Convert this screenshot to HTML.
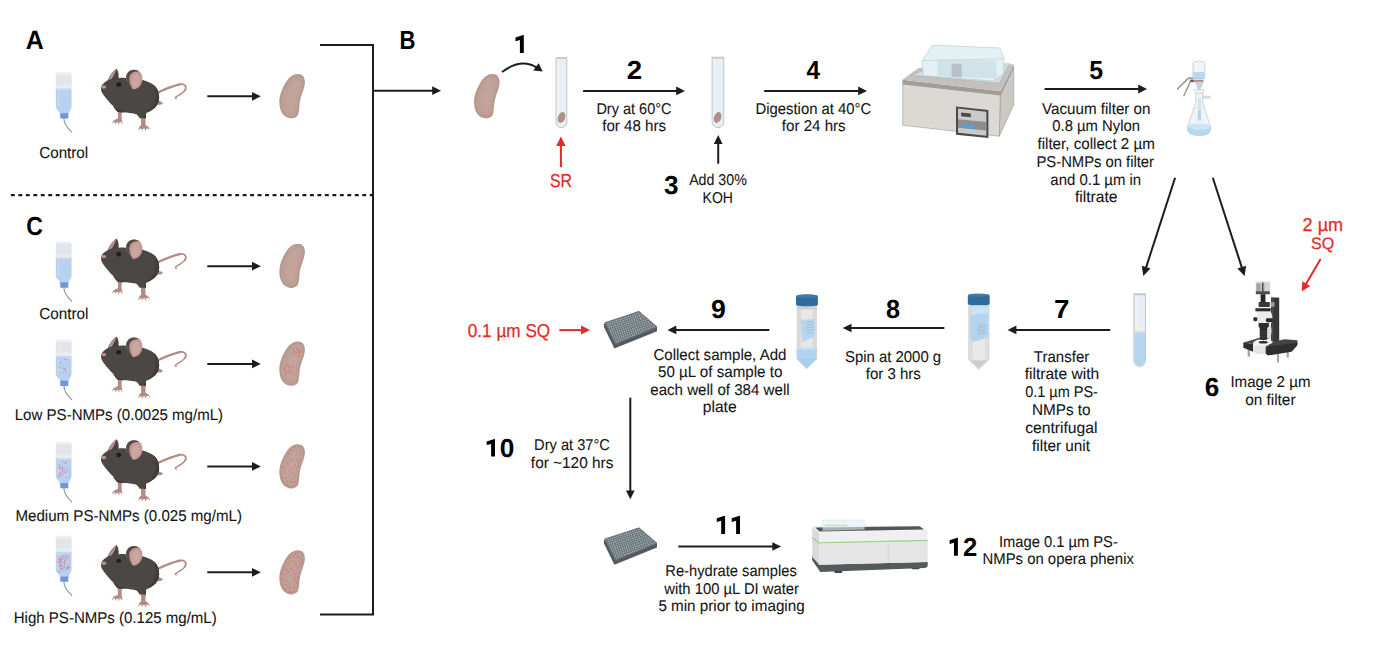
<!DOCTYPE html>
<html><head><meta charset="utf-8"><title>Figure</title>
<style>html,body{margin:0;padding:0;background:#fff;}svg{display:block;}text{font-family:"Liberation Sans",sans-serif;text-rendering:geometricPrecision;}</style>
</head><body>
<svg width="1394" height="646" viewBox="0 0 1394 646">
<defs>
<symbol id="mouse" viewBox="0 0 923 646" overflow="visible">
<g fill="none" stroke="#b08a83" stroke-linecap="round"><path d="M570,286 C620,262 700,225 782,206" stroke-width="21"/><path d="M782,206 C832,196 852,232 828,263" stroke-width="16"/><path d="M828,263 C810,290 772,306 744,326 C738,331 744,337 750,338" stroke-width="13"/></g>
<path d="M562,360 C585,352 612,362 628,380 C612,398 585,398 562,390 Z" fill="#b38b84"/>
<path d="M210,440 L212,522 C195,528 170,535 165,552 C185,562 235,560 252,550 C246,532 244,518 248,440 Z" fill="#b38b84"/>
<path d="M424,500 L426,584 C412,590 405,600 407,614 C432,618 475,618 500,608 C492,596 478,588 466,582 L466,500 Z" fill="#b38b84"/>
<path d="M116,176 C128,135 165,82 202,62 C218,95 222,130 216,152 Z" fill="#474443"/>
<path d="M122,168 C135,128 162,92 198,68 C184,108 168,140 148,165 Z" fill="#b8918a"/>
<path d="M58,232 C62,205 95,180 135,162 C170,148 230,140 300,150 C400,150 490,170 545,215 C592,255 600,330 586,370 C570,420 520,455 470,470 L470,518 L411,518 C400,495 385,480 373,479 C320,470 270,462 249,469 L207,460 C190,440 175,420 168,406 C145,385 92,330 62,277 C55,262 55,245 58,232 Z" fill="#4b4745"/>
<path d="M545,215 C592,255 600,330 586,370 C570,420 520,455 470,470 L470,518 L455,518 C450,480 520,440 548,380 C570,330 565,260 545,215 Z" fill="#3f3c3b"/>
<path d="M168,406 C200,440 230,452 300,455 C260,465 225,462 207,460 C190,440 175,420 168,406 Z" fill="#3f3c3b"/>
<g transform="translate(362,165) scale(1.08) translate(-362,-165)">
<path d="M298,172 C282,122 308,80 360,78 C420,78 442,130 428,185 C414,230 372,252 348,243 C332,222 316,198 298,172 Z" fill="#c09a93"/>
<path d="M298,172 C282,122 308,80 360,78 C385,80 400,90 405,95 C360,88 318,110 320,160 C322,195 335,222 348,243 C332,222 316,198 298,172 Z" fill="#5a4a47"/>
<path d="M345,205 C335,165 345,125 385,112 C412,125 418,160 405,195 C392,225 365,235 352,232 Z" fill="#c9a7a0"/>
</g>
<ellipse cx="219" cy="208" rx="23" ry="20" fill="#1e1c1c"/>
<path d="M172,550 L160,565 M195,554 L188,570 M220,556 L220,572 M245,550 L250,566 M412,610 L402,626 M438,614 L434,630 M465,614 L468,630 M492,606 L504,620" stroke="#b38b84" stroke-width="9" stroke-linecap="round"/>
<ellipse cx="82" cy="230" rx="21" ry="16" fill="#c48f8b"/>
<path d="M60,212 L5,185 M60,222 L0,218 M60,230 L10,250" stroke="#d0d0d0" stroke-width="2.5"/>
</symbol>
<symbol id="bottle" viewBox="0 0 359 646" overflow="visible">
<path d="M170,478 C168,520 195,560 240,602" fill="none" stroke="#8f969d" stroke-width="10" stroke-linecap="round"/>
<rect x="137" y="425" width="72" height="55" rx="5" fill="#7095da"/>
<rect x="137" y="425" width="72" height="12" fill="#6386cc"/>
<path d="M100,90 C100,74 112,70 125,70 L210,70 C225,70 235,74 235,90 L235,215 L100,215 Z" fill="#e2e6ea" stroke="#cdd3d9" stroke-width="4"/>
<rect x="102" y="72" width="131" height="14" rx="7" fill="#f0f2f4"/>
<rect x="102" y="180" width="131" height="35" fill="#eaedf0"/>
<path d="M100,215 L235,215 L235,372 C235,398 214,414 208,432 L138,432 C132,414 100,398 100,372 Z" fill="#b8d1f1" stroke="#a9c3e6" stroke-width="4"/>
<rect x="102" y="217" width="131" height="10" fill="#c8dcf5"/>
<rect x="118" y="232" width="10" height="140" fill="#cadef6" opacity="0.8"/>
</symbol>
<symbol id="kidney" viewBox="0 0 529 646" overflow="visible">
<path d="M320,70 C380,66 412,105 410,170 C408,240 372,300 354,380 C342,440 346,505 330,548 C312,585 270,594 235,590 C165,580 112,515 110,410 C108,320 140,240 196,152 C232,100 272,72 320,70 Z" fill="#b8988f"/>
<path d="M316,98 C360,96 386,125 384,178 C382,240 350,300 334,375 C322,432 324,495 312,530 C298,562 268,568 240,564 C185,555 140,500 138,410 C136,330 165,255 215,170 C245,122 280,100 316,98 Z" fill="#bea097"/>
<path d="M300,150 C340,150 352,185 345,225 C335,280 308,330 298,390 C288,450 285,500 255,510 C215,515 190,470 190,410 C192,310 240,155 300,150 Z" fill="#c3a59d" opacity="0.7"/>
</symbol>
<clipPath id="kclip"><path d="M318,90 C368,88 394,120 392,172 C390,240 356,300 340,378 C328,436 330,500 316,540 C300,574 268,580 236,576 C175,566 128,505 126,410 C124,325 155,248 208,162 C240,112 276,92 318,90 Z"/></clipPath>
<pattern id="wells" width="15" height="15" patternUnits="userSpaceOnUse" patternTransform="rotate(-18)"><rect width="15" height="15" fill="#636c71"/><circle cx="7.5" cy="7.5" r="5" fill="#b3c3ca"/></pattern>
</defs>
<rect width="1394" height="646" fill="#fff"/>
<use href="#bottle" x="45" y="65" width="40" height="72"/>
<use href="#mouse" x="95" y="62" width="100" height="70"/>
<use href="#kidney" x="270" y="68" width="45" height="55"/>
<use href="#bottle" x="45" y="234.2" width="40" height="72"/>
<use href="#mouse" x="95" y="231.7" width="100" height="70"/>
<use href="#kidney" x="270" y="237.7" width="45" height="55"/>
<use href="#bottle" x="45" y="332.5" width="40" height="72"/><g fill="#dc4c47"><circle cx="63.5" cy="368.0" r="0.45"/><circle cx="68.7" cy="366.4" r="0.45"/><circle cx="64.1" cy="368.5" r="0.45"/><circle cx="60.5" cy="367.2" r="0.45"/><circle cx="65.4" cy="372.0" r="0.45"/><circle cx="59.5" cy="363.7" r="0.45"/><circle cx="59.5" cy="372.3" r="0.45"/><circle cx="66.1" cy="359.2" r="0.45"/><circle cx="69.3" cy="374.9" r="0.45"/><circle cx="65.7" cy="369.0" r="0.45"/><circle cx="60.2" cy="358.8" r="0.45"/><circle cx="64.3" cy="359.5" r="0.45"/><circle cx="60.6" cy="362.6" r="0.45"/><circle cx="58.8" cy="366.4" r="0.45"/><circle cx="63.3" cy="372.8" r="0.45"/><circle cx="64.2" cy="369.4" r="0.45"/></g>
<use href="#mouse" x="95" y="329.7" width="100" height="70"/>
<use href="#kidney" x="270" y="335.5" width="45" height="55"/><g transform="translate(270,335.5) scale(0.08507)"><g clip-path="url(#kclip)" fill="#d8645e"><circle cx="330" cy="238" r="6"/><circle cx="277" cy="164" r="6"/><circle cx="316" cy="247" r="6"/><circle cx="320" cy="155" r="6"/><circle cx="276" cy="194" r="6"/><circle cx="342" cy="196" r="6"/><circle cx="291" cy="187" r="6"/><circle cx="313" cy="167" r="6"/><circle cx="306" cy="207" r="6"/><circle cx="357" cy="194" r="6"/><circle cx="338" cy="162" r="6"/><circle cx="339" cy="202" r="6"/><circle cx="285" cy="195" r="6"/><circle cx="340" cy="184" r="6"/><circle cx="336" cy="240" r="6"/><circle cx="346" cy="236" r="6"/><circle cx="262" cy="208" r="6"/><circle cx="282" cy="230" r="6"/><circle cx="309" cy="206" r="6"/><circle cx="324" cy="173" r="6"/><circle cx="310" cy="168" r="6"/><circle cx="361" cy="184" r="6"/><circle cx="216" cy="353" r="6"/><circle cx="170" cy="380" r="6"/><circle cx="245" cy="434" r="6"/><circle cx="227" cy="381" r="6"/><circle cx="265" cy="379" r="6"/><circle cx="184" cy="425" r="6"/><circle cx="179" cy="416" r="6"/><circle cx="252" cy="404" r="6"/><circle cx="233" cy="408" r="6"/><circle cx="203" cy="346" r="6"/><circle cx="173" cy="406" r="6"/><circle cx="166" cy="389" r="6"/><circle cx="223" cy="451" r="6"/><circle cx="171" cy="389" r="6"/><circle cx="225" cy="427" r="6"/><circle cx="182" cy="452" r="6"/><circle cx="189" cy="443" r="6"/><circle cx="208" cy="423" r="6"/><circle cx="265" cy="427" r="6"/><circle cx="221" cy="369" r="6"/><circle cx="195" cy="360" r="6"/><circle cx="262" cy="370" r="6"/></g></g>
<use href="#bottle" x="45" y="434.8" width="40" height="72"/><g fill="#dc4c47"><circle cx="63.7" cy="472.0" r="0.45"/><circle cx="65.8" cy="463.2" r="0.45"/><circle cx="58.6" cy="467.2" r="0.45"/><circle cx="61.5" cy="474.6" r="0.45"/><circle cx="66.1" cy="471.0" r="0.45"/><circle cx="64.6" cy="472.0" r="0.45"/><circle cx="60.1" cy="468.3" r="0.45"/><circle cx="60.3" cy="476.2" r="0.45"/><circle cx="59.1" cy="474.7" r="0.45"/><circle cx="59.3" cy="472.5" r="0.45"/><circle cx="62.2" cy="467.7" r="0.45"/><circle cx="67.8" cy="461.1" r="0.45"/><circle cx="59.2" cy="476.4" r="0.45"/><circle cx="64.1" cy="462.3" r="0.45"/><circle cx="69.4" cy="476.9" r="0.45"/><circle cx="59.7" cy="468.0" r="0.45"/><circle cx="60.0" cy="466.1" r="0.45"/><circle cx="65.3" cy="463.6" r="0.45"/><circle cx="66.2" cy="461.7" r="0.45"/><circle cx="60.4" cy="474.7" r="0.45"/><circle cx="62.9" cy="467.9" r="0.45"/><circle cx="65.1" cy="468.9" r="0.45"/><circle cx="62.7" cy="461.3" r="0.45"/><circle cx="66.5" cy="477.2" r="0.45"/><circle cx="69.2" cy="472.1" r="0.45"/><circle cx="62.4" cy="467.0" r="0.45"/><circle cx="66.1" cy="472.3" r="0.45"/><circle cx="59.8" cy="464.8" r="0.45"/><circle cx="62.5" cy="469.5" r="0.45"/><circle cx="67.4" cy="469.3" r="0.45"/><circle cx="58.8" cy="474.8" r="0.45"/><circle cx="63.2" cy="469.6" r="0.45"/><circle cx="60.9" cy="468.1" r="0.45"/><circle cx="62.8" cy="473.9" r="0.45"/><circle cx="59.6" cy="470.1" r="0.45"/><circle cx="60.5" cy="472.6" r="0.45"/><circle cx="58.9" cy="465.5" r="0.45"/><circle cx="62.3" cy="471.6" r="0.45"/></g>
<use href="#mouse" x="95" y="432.5" width="100" height="70"/>
<use href="#kidney" x="270" y="438.2" width="45" height="55"/><g transform="translate(270,438.2) scale(0.08507)"><g clip-path="url(#kclip)" fill="#d8645e"><circle cx="124" cy="89" r="6"/><circle cx="170" cy="76" r="6"/><circle cx="241" cy="60" r="6"/><circle cx="314" cy="86" r="6"/><circle cx="368" cy="78" r="6"/><circle cx="408" cy="73" r="6"/><circle cx="88" cy="125" r="6"/><circle cx="159" cy="122" r="6"/><circle cx="233" cy="116" r="6"/><circle cx="285" cy="105" r="6"/><circle cx="380" cy="124" r="6"/><circle cx="88" cy="137" r="6"/><circle cx="124" cy="170" r="6"/><circle cx="185" cy="151" r="6"/><circle cx="242" cy="147" r="6"/><circle cx="271" cy="146" r="6"/><circle cx="312" cy="151" r="6"/><circle cx="353" cy="138" r="6"/><circle cx="97" cy="192" r="6"/><circle cx="222" cy="181" r="6"/><circle cx="312" cy="190" r="6"/><circle cx="347" cy="184" r="6"/><circle cx="395" cy="207" r="6"/><circle cx="89" cy="245" r="6"/><circle cx="139" cy="250" r="6"/><circle cx="239" cy="238" r="6"/><circle cx="271" cy="257" r="6"/><circle cx="309" cy="247" r="6"/><circle cx="346" cy="249" r="6"/><circle cx="117" cy="262" r="6"/><circle cx="147" cy="274" r="6"/><circle cx="191" cy="278" r="6"/><circle cx="209" cy="298" r="6"/><circle cx="254" cy="269" r="6"/><circle cx="324" cy="268" r="6"/><circle cx="337" cy="279" r="6"/><circle cx="388" cy="289" r="6"/><circle cx="179" cy="335" r="6"/><circle cx="215" cy="322" r="6"/><circle cx="277" cy="330" r="6"/><circle cx="301" cy="312" r="6"/><circle cx="336" cy="328" r="6"/><circle cx="409" cy="328" r="6"/><circle cx="100" cy="368" r="6"/><circle cx="141" cy="346" r="6"/><circle cx="231" cy="382" r="6"/><circle cx="311" cy="350" r="6"/><circle cx="366" cy="376" r="6"/><circle cx="389" cy="369" r="6"/><circle cx="111" cy="421" r="6"/><circle cx="137" cy="419" r="6"/><circle cx="172" cy="398" r="6"/><circle cx="239" cy="406" r="6"/><circle cx="280" cy="424" r="6"/><circle cx="306" cy="420" r="6"/><circle cx="400" cy="394" r="6"/><circle cx="83" cy="443" r="6"/><circle cx="143" cy="466" r="6"/><circle cx="186" cy="462" r="6"/><circle cx="227" cy="458" r="6"/><circle cx="285" cy="455" r="6"/><circle cx="378" cy="436" r="6"/><circle cx="117" cy="505" r="6"/><circle cx="147" cy="499" r="6"/><circle cx="202" cy="507" r="6"/><circle cx="241" cy="501" r="6"/><circle cx="261" cy="482" r="6"/><circle cx="293" cy="506" r="6"/><circle cx="334" cy="483" r="6"/><circle cx="392" cy="484" r="6"/><circle cx="99" cy="529" r="6"/><circle cx="154" cy="525" r="6"/><circle cx="198" cy="549" r="6"/><circle cx="209" cy="549" r="6"/><circle cx="257" cy="518" r="6"/><circle cx="303" cy="518" r="6"/><circle cx="371" cy="544" r="6"/><circle cx="393" cy="543" r="6"/><circle cx="84" cy="568" r="6"/><circle cx="158" cy="577" r="6"/><circle cx="189" cy="557" r="6"/><circle cx="238" cy="580" r="6"/><circle cx="260" cy="555" r="6"/><circle cx="297" cy="572" r="6"/><circle cx="393" cy="579" r="6"/></g></g>
<use href="#bottle" x="45" y="528.3" width="40" height="72"/><g fill="#dc4c47"><circle cx="61.3" cy="565.9" r="0.45"/><circle cx="66.0" cy="568.7" r="0.45"/><circle cx="60.5" cy="558.2" r="0.45"/><circle cx="60.1" cy="558.1" r="0.45"/><circle cx="66.6" cy="556.5" r="0.45"/><circle cx="64.3" cy="557.9" r="0.45"/><circle cx="61.7" cy="561.6" r="0.45"/><circle cx="67.7" cy="564.6" r="0.45"/><circle cx="58.7" cy="559.0" r="0.45"/><circle cx="60.1" cy="569.1" r="0.45"/><circle cx="67.4" cy="568.0" r="0.45"/><circle cx="67.6" cy="567.0" r="0.45"/><circle cx="68.9" cy="567.8" r="0.45"/><circle cx="61.3" cy="568.7" r="0.45"/><circle cx="63.9" cy="567.1" r="0.45"/><circle cx="64.7" cy="561.6" r="0.45"/><circle cx="62.5" cy="561.6" r="0.45"/><circle cx="62.0" cy="556.3" r="0.45"/><circle cx="67.5" cy="567.9" r="0.45"/><circle cx="69.3" cy="566.0" r="0.45"/><circle cx="64.6" cy="567.0" r="0.45"/><circle cx="60.0" cy="565.8" r="0.45"/><circle cx="63.4" cy="557.3" r="0.45"/><circle cx="60.7" cy="563.2" r="0.45"/><circle cx="61.3" cy="562.1" r="0.45"/><circle cx="65.2" cy="561.0" r="0.45"/><circle cx="59.9" cy="562.6" r="0.45"/><circle cx="61.1" cy="558.3" r="0.45"/><circle cx="60.6" cy="560.5" r="0.45"/><circle cx="59.3" cy="565.4" r="0.45"/><circle cx="69.0" cy="560.9" r="0.45"/><circle cx="66.4" cy="570.2" r="0.45"/><circle cx="59.0" cy="556.7" r="0.45"/><circle cx="67.4" cy="568.5" r="0.45"/><circle cx="65.5" cy="557.0" r="0.45"/><circle cx="63.0" cy="569.1" r="0.45"/><circle cx="68.2" cy="568.0" r="0.45"/><circle cx="60.7" cy="568.8" r="0.45"/><circle cx="62.6" cy="566.5" r="0.45"/><circle cx="60.0" cy="570.8" r="0.45"/><circle cx="65.1" cy="566.6" r="0.45"/><circle cx="60.8" cy="564.8" r="0.45"/><circle cx="64.9" cy="564.4" r="0.45"/><circle cx="62.5" cy="566.7" r="0.45"/><circle cx="62.3" cy="559.3" r="0.45"/><circle cx="60.3" cy="565.9" r="0.45"/><circle cx="59.7" cy="558.1" r="0.45"/><circle cx="59.3" cy="565.2" r="0.45"/><circle cx="64.6" cy="563.5" r="0.45"/><circle cx="58.9" cy="561.8" r="0.45"/><circle cx="62.3" cy="555.9" r="0.45"/><circle cx="58.5" cy="571.3" r="0.45"/><circle cx="59.8" cy="559.4" r="0.45"/><circle cx="61.5" cy="564.5" r="0.45"/><circle cx="59.4" cy="562.3" r="0.45"/><circle cx="62.5" cy="568.5" r="0.45"/><circle cx="58.6" cy="560.0" r="0.45"/><circle cx="64.0" cy="570.8" r="0.45"/><circle cx="64.2" cy="562.4" r="0.45"/><circle cx="65.9" cy="559.3" r="0.45"/><circle cx="58.8" cy="562.8" r="0.45"/><circle cx="68.5" cy="566.9" r="0.45"/><circle cx="61.3" cy="565.9" r="0.45"/><circle cx="67.8" cy="558.7" r="0.45"/><circle cx="65.0" cy="560.3" r="0.45"/><circle cx="61.2" cy="559.2" r="0.45"/><circle cx="60.7" cy="560.3" r="0.45"/><circle cx="58.9" cy="561.1" r="0.45"/><circle cx="59.5" cy="567.2" r="0.45"/><circle cx="65.1" cy="554.4" r="0.45"/><circle cx="67.0" cy="557.5" r="0.45"/><circle cx="63.8" cy="563.7" r="0.45"/><circle cx="62.2" cy="559.2" r="0.45"/><circle cx="63.3" cy="556.6" r="0.45"/><circle cx="68.0" cy="556.2" r="0.45"/></g>
<use href="#mouse" x="95" y="538.3" width="100" height="70"/>
<use href="#kidney" x="270" y="544.2" width="45" height="55"/><g transform="translate(270,544.2) scale(0.08507)"><g clip-path="url(#kclip)" fill="#d8645e"><circle cx="149" cy="72" r="6"/><circle cx="191" cy="60" r="6"/><circle cx="219" cy="62" r="6"/><circle cx="237" cy="59" r="6"/><circle cx="278" cy="70" r="6"/><circle cx="306" cy="58" r="6"/><circle cx="342" cy="74" r="6"/><circle cx="383" cy="66" r="6"/><circle cx="396" cy="72" r="6"/><circle cx="95" cy="89" r="6"/><circle cx="136" cy="102" r="6"/><circle cx="164" cy="91" r="6"/><circle cx="185" cy="109" r="6"/><circle cx="210" cy="89" r="6"/><circle cx="244" cy="102" r="6"/><circle cx="275" cy="96" r="6"/><circle cx="305" cy="107" r="6"/><circle cx="333" cy="89" r="6"/><circle cx="376" cy="109" r="6"/><circle cx="401" cy="111" r="6"/><circle cx="112" cy="121" r="6"/><circle cx="158" cy="117" r="6"/><circle cx="195" cy="143" r="6"/><circle cx="232" cy="131" r="6"/><circle cx="276" cy="143" r="6"/><circle cx="302" cy="119" r="6"/><circle cx="332" cy="142" r="6"/><circle cx="389" cy="131" r="6"/><circle cx="101" cy="168" r="6"/><circle cx="128" cy="171" r="6"/><circle cx="156" cy="171" r="6"/><circle cx="201" cy="165" r="6"/><circle cx="225" cy="169" r="6"/><circle cx="243" cy="154" r="6"/><circle cx="287" cy="162" r="6"/><circle cx="319" cy="149" r="6"/><circle cx="335" cy="162" r="6"/><circle cx="363" cy="172" r="6"/><circle cx="402" cy="161" r="6"/><circle cx="102" cy="189" r="6"/><circle cx="136" cy="177" r="6"/><circle cx="168" cy="180" r="6"/><circle cx="182" cy="195" r="6"/><circle cx="219" cy="188" r="6"/><circle cx="255" cy="189" r="6"/><circle cx="281" cy="192" r="6"/><circle cx="305" cy="201" r="6"/><circle cx="350" cy="200" r="6"/><circle cx="377" cy="195" r="6"/><circle cx="394" cy="185" r="6"/><circle cx="95" cy="232" r="6"/><circle cx="127" cy="218" r="6"/><circle cx="159" cy="221" r="6"/><circle cx="184" cy="209" r="6"/><circle cx="214" cy="230" r="6"/><circle cx="239" cy="219" r="6"/><circle cx="282" cy="218" r="6"/><circle cx="304" cy="229" r="6"/><circle cx="353" cy="224" r="6"/><circle cx="378" cy="214" r="6"/><circle cx="390" cy="229" r="6"/><circle cx="106" cy="247" r="6"/><circle cx="124" cy="239" r="6"/><circle cx="181" cy="263" r="6"/><circle cx="237" cy="253" r="6"/><circle cx="286" cy="249" r="6"/><circle cx="312" cy="257" r="6"/><circle cx="343" cy="252" r="6"/><circle cx="360" cy="239" r="6"/><circle cx="392" cy="248" r="6"/><circle cx="103" cy="281" r="6"/><circle cx="128" cy="276" r="6"/><circle cx="167" cy="291" r="6"/><circle cx="200" cy="293" r="6"/><circle cx="247" cy="287" r="6"/><circle cx="268" cy="277" r="6"/><circle cx="317" cy="281" r="6"/><circle cx="337" cy="268" r="6"/><circle cx="368" cy="289" r="6"/><circle cx="398" cy="273" r="6"/><circle cx="105" cy="309" r="6"/><circle cx="139" cy="312" r="6"/><circle cx="193" cy="308" r="6"/><circle cx="231" cy="323" r="6"/><circle cx="248" cy="298" r="6"/><circle cx="277" cy="307" r="6"/><circle cx="297" cy="307" r="6"/><circle cx="376" cy="315" r="6"/><circle cx="391" cy="313" r="6"/><circle cx="102" cy="340" r="6"/><circle cx="120" cy="328" r="6"/><circle cx="150" cy="344" r="6"/><circle cx="193" cy="347" r="6"/><circle cx="221" cy="332" r="6"/><circle cx="263" cy="334" r="6"/><circle cx="280" cy="341" r="6"/><circle cx="304" cy="352" r="6"/><circle cx="348" cy="342" r="6"/><circle cx="405" cy="352" r="6"/><circle cx="90" cy="381" r="6"/><circle cx="169" cy="359" r="6"/><circle cx="198" cy="376" r="6"/><circle cx="250" cy="364" r="6"/><circle cx="293" cy="374" r="6"/><circle cx="302" cy="376" r="6"/><circle cx="328" cy="379" r="6"/><circle cx="362" cy="358" r="6"/><circle cx="390" cy="383" r="6"/><circle cx="108" cy="407" r="6"/><circle cx="132" cy="408" r="6"/><circle cx="150" cy="408" r="6"/><circle cx="192" cy="400" r="6"/><circle cx="260" cy="389" r="6"/><circle cx="285" cy="403" r="6"/><circle cx="302" cy="408" r="6"/><circle cx="330" cy="390" r="6"/><circle cx="383" cy="403" r="6"/><circle cx="400" cy="408" r="6"/><circle cx="101" cy="433" r="6"/><circle cx="169" cy="424" r="6"/><circle cx="199" cy="436" r="6"/><circle cx="280" cy="426" r="6"/><circle cx="310" cy="443" r="6"/><circle cx="329" cy="423" r="6"/><circle cx="380" cy="429" r="6"/><circle cx="401" cy="423" r="6"/><circle cx="103" cy="473" r="6"/><circle cx="136" cy="451" r="6"/><circle cx="164" cy="467" r="6"/><circle cx="178" cy="472" r="6"/><circle cx="226" cy="459" r="6"/><circle cx="246" cy="449" r="6"/><circle cx="279" cy="468" r="6"/><circle cx="314" cy="457" r="6"/><circle cx="331" cy="470" r="6"/><circle cx="410" cy="468" r="6"/><circle cx="89" cy="496" r="6"/><circle cx="133" cy="503" r="6"/><circle cx="201" cy="480" r="6"/><circle cx="221" cy="491" r="6"/><circle cx="283" cy="493" r="6"/><circle cx="346" cy="493" r="6"/><circle cx="366" cy="481" r="6"/><circle cx="396" cy="485" r="6"/><circle cx="100" cy="516" r="6"/><circle cx="164" cy="529" r="6"/><circle cx="180" cy="523" r="6"/><circle cx="233" cy="518" r="6"/><circle cx="243" cy="509" r="6"/><circle cx="285" cy="513" r="6"/><circle cx="383" cy="533" r="6"/><circle cx="406" cy="527" r="6"/><circle cx="96" cy="551" r="6"/><circle cx="139" cy="538" r="6"/><circle cx="155" cy="558" r="6"/><circle cx="178" cy="540" r="6"/><circle cx="218" cy="560" r="6"/><circle cx="239" cy="555" r="6"/><circle cx="282" cy="557" r="6"/><circle cx="316" cy="553" r="6"/><circle cx="347" cy="561" r="6"/><circle cx="364" cy="550" r="6"/><circle cx="408" cy="556" r="6"/><circle cx="109" cy="581" r="6"/><circle cx="118" cy="579" r="6"/><circle cx="171" cy="589" r="6"/><circle cx="183" cy="590" r="6"/><circle cx="212" cy="568" r="6"/><circle cx="252" cy="569" r="6"/><circle cx="317" cy="588" r="6"/><circle cx="341" cy="571" r="6"/><circle cx="368" cy="588" r="6"/><circle cx="392" cy="577" r="6"/></g></g>
<use href="#kidney" x="464.7" y="68.1" width="45" height="55"/>
<path d="M556.0,57.6 L566.8,57.6 L566.8,122.20000000000002 A5.399999999999977,5.399999999999977 0 0 1 556.0,122.20000000000002 Z" fill="#e9eef2" stroke="#b8c0c8" stroke-width="0.9"/><rect x="557.5" y="59.6" width="1.5" height="61.60000000000002" fill="#f3f6f8" opacity="0.7"/><rect x="555.6" y="57.0" width="11.599999999999955" height="2" rx="1" fill="#c5ccd2"/><ellipse cx="561.5" cy="117.5" rx="3.6" ry="5.6" transform="rotate(20 561.5 117.5)" fill="#b08f88"/>
<path d="M712.1,57.4 L723.8,57.4 L723.8,121.85000000000004 A5.849999999999966,5.849999999999966 0 0 1 712.1,121.85000000000004 Z" fill="#e9eef2" stroke="#b8c0c8" stroke-width="0.9"/><rect x="713.6" y="59.4" width="1.5" height="61.450000000000045" fill="#f3f6f8" opacity="0.7"/><rect x="711.7" y="56.8" width="12.499999999999932" height="2" rx="1" fill="#c5ccd2"/><ellipse cx="717.6" cy="117.5" rx="3.6" ry="5.6" transform="rotate(20 717.6 117.5)" fill="#b08f88"/>
<path d="M1133.9,293.9 L1145.5,293.9 L1145.5,360.6 A5.7999999999999545,5.7999999999999545 0 0 1 1133.9,360.6 Z" fill="#e9eef2" stroke="#b8c0c8" stroke-width="0.9"/><path d="M1134.4,331.5 L1145.0,331.5 L1145.0,360.6 A5.2999999999999545,5.2999999999999545 0 0 1 1134.4,360.6 Z" fill="#b5d6ee"/><rect x="1134.4" y="331.5" width="10.599999999999909" height="1.2" fill="#c9e2f3"/><rect x="1135.4" y="295.9" width="1.5" height="34.60000000000002" fill="#f3f6f8" opacity="0.7"/><rect x="1133.5" y="293.29999999999995" width="12.39999999999991" height="2" rx="1" fill="#c5ccd2"/>
<g transform="translate(780,285) scale(0.13928)"><path d="M120,145 L265,145 L265,530 L192,602 L120,530 Z" fill="#d9d9d9"/><path d="M150,145 L235,145 L235,520 L192,585 L150,520 Z" fill="#e8e8e8"/><rect x="120" y="145" width="145" height="30" fill="#cfcfcf"/><path d="M120,450 L265,450 L265,530 L192,602 L120,530 Z" fill="#b3d4ef"/><ellipse cx="192" cy="455" rx="72" ry="12" fill="#c8e1f4"/><path d="M192,602 L120,530 L265,530 Z" fill="#a9cdec"/><path d="M145,250 L250,245 L250,372 L160,410 Z" fill="#b8d6ef"/><path d="M185,270 L240,260 M185,290 L240,280 M185,310 L240,300 M185,330 L240,320 M185,350 L240,340" stroke="#8fb5d6" stroke-width="5"/><path d="M115,85 C115,70 140,68 192,68 C245,68 272,70 272,85 L272,140 C272,148 250,152 192,152 C135,152 115,148 115,140 Z" fill="#2f6c9b"/><ellipse cx="193" cy="80" rx="77" ry="11" fill="#3d7dad"/></g>
<g transform="translate(951.8,284.2) scale(0.13928)"><path d="M121,150 L267,150 L267,543 L193,612 L121,543 Z" fill="#dedede" stroke="#c9c9c9" stroke-width="4"/><path d="M150,150 L240,150 L240,535 L193,590 L150,535 Z" fill="#e9e9e9"/><path d="M135,548 L253,548 L193,600 Z" fill="#cbcbcb"/><path d="M131,161 L264,161 L264,381 L155,415 L131,390 Z" fill="#b5d5ee"/><path d="M131,161 L264,161 L264,215 C235,200 175,210 140,230 Z" fill="#c9e2f5"/><path d="M183,300 L245,290 M183,315 L245,305 M183,330 L245,320 M183,345 L245,335 M183,360 L245,350" stroke="#8fb5d6" stroke-width="5"/><path d="M115,85 C115,70 140,68 192,68 C245,68 272,70 272,85 L272,140 C272,148 250,152 192,152 C135,152 115,148 115,140 Z" fill="#2f6c9b"/><ellipse cx="193" cy="80" rx="77" ry="11" fill="#3d7dad"/></g>
<g transform="translate(895,35) scale(0.17039)"><path d="M618,340 L697,190 L697,410 L612,594 Z" fill="#cdc8c4" stroke="#8d8a87" stroke-width="3"/><path d="M45,285 L618,345 L612,594 L45,530 Z" fill="#dcd8d4" stroke="#8d8a87" stroke-width="3"/><path d="M43,262 L621,330 L697,172 L697,195 L621,355 L45,290 Z" fill="#a09d9b"/><path d="M43,262 L138,193 L697,172 L621,330 Z" fill="#c3c0bd"/><path d="M94,236 L214,190 L672,168 L612,283 Z" fill="#d3dde0" stroke="#a9b5b9" stroke-width="4"/><path d="M160,150 L220,59 L615,76 L640,140 L634,230 L574,270 L165,238 Z" fill="#e3f0f4" stroke="#a9c3ca" stroke-width="3"/><path d="M247,144 L591,150 L600,255 L250,242 Z" fill="#d0e3e9"/><path d="M160,150 L640,140" stroke="#bcd2d8" stroke-width="4"/><path d="M332,168 L392,168 L392,250 L332,244 Z" fill="#b5c3c7"/><path d="M358,420 L548,440 L548,605 L358,585 Z" fill="#4a4a4a"/><path d="M370,432 L536,450 L536,592 L370,574 Z" fill="#c9c9c9"/><path d="M370,495 L536,510 L536,560 L370,545 Z" fill="#8d8d8d"/><path d="M388,455 L445,460 L445,482 L388,477 Z" fill="#4a4a4a"/><rect x="392" y="520" width="30" height="26" rx="4" fill="#5aa0d8"/><rect x="436" y="526" width="30" height="26" rx="4" fill="#5aa0d8"/></g>
<g transform="translate(1170,55) scale(0.13928)"><path d="M185,270 L235,270 L235,345 L292,515 C300,560 270,578 210,578 C150,578 118,560 127,515 L185,345 Z" fill="#eef4f8" stroke="#b4c6d3" stroke-width="5"/><path d="M127,515 C135,490 285,490 292,515 C300,560 270,578 210,578 C150,578 118,560 127,515 Z" fill="#b6d7ee"/><ellipse cx="210" cy="515" rx="80" ry="22" fill="#cbe4f4"/><rect x="200" y="310" width="22" height="160" fill="#cfe3f1"/><rect x="200" y="400" width="22" height="70" fill="#b4d4ec"/><rect x="235" y="295" width="52" height="16" rx="6" fill="#dde6ec" stroke="#b4c6d3" stroke-width="4"/><path d="M175,248 L242,248 L238,275 L180,275 Z" fill="#f0f0f0" stroke="#c2c8cc" stroke-width="4"/><path d="M182,198 L238,198 L215,250 L205,250 Z" fill="#b6d7ee" stroke="#9fc0d8" stroke-width="3"/><path d="M240,166 L132,166 L55,243" fill="none" stroke="#9c9c9c" stroke-width="11" stroke-linecap="round" stroke-linejoin="round"/><path d="M148,186 L100,293" stroke="#9c9c9c" stroke-width="11" stroke-linecap="round"/><rect x="140" y="176" width="102" height="20" fill="#b9b9b9"/><rect x="148" y="178" width="22" height="16" fill="#555"/><rect x="175" y="182" width="62" height="7" fill="#c46a5a"/><path d="M165,60 C165,48 175,45 208,45 C240,45 250,48 250,60 L250,168 L165,168 Z" fill="#eef4f8" stroke="#b4c6d3" stroke-width="5"/><path d="M167,122 L248,122 L248,166 L167,166 Z" fill="#b6d7ee"/></g>
<g transform="translate(1230,270) scale(0.15474)"><rect x="114" y="505" width="15" height="55" fill="#a5a5a5"/><rect x="303" y="540" width="14" height="58" fill="#a5a5a5"/><rect x="366" y="530" width="14" height="36" fill="#a5a5a5"/><rect x="265" y="178" width="53" height="290" fill="#363636"/><rect x="268" y="178" width="12" height="290" fill="#4a4a4a"/><path d="M86,468 L198,437 L270,437 L149,479 Z" fill="#4a4a4a"/><path d="M86,468 L149,479 L149,528 L86,503 Z" fill="#2e2e2e"/><path d="M229,496 L275,463 L355,447 L436,454 L436,479 L247,520 Z" fill="#444444"/><path d="M229,496 L436,470 L436,486 L398,528 L247,552 L229,540 Z" fill="#2f2f2f"/><path d="M149,479 C150,460 180,448 218,448 C255,448 275,458 275,468 L229,496 L229,542 C200,548 170,545 149,528 Z" fill="#e4e4e4"/><path d="M149,479 C150,460 180,448 218,448 C255,448 275,458 275,468 C260,482 200,492 149,489 Z" fill="#f2f2f2"/><ellipse cx="215" cy="467" rx="30" ry="8" fill="#262626"/><rect x="263" y="207" width="25" height="31" fill="#9a9a9a"/><path d="M232,330 C270,345 275,380 262,440 L240,445 L240,340 Z" fill="#dcdcdc"/><path d="M185,343 L251,343 L251,365 L240,375 L240,448 C228,456 200,456 192,448 L192,375 L185,365 Z" fill="#2c2c2c"/><rect x="194" y="395" width="44" height="5" fill="#4a4a4a"/><rect x="194" y="412" width="44" height="5" fill="#4a4a4a"/><rect x="194" y="429" width="44" height="5" fill="#4a4a4a"/><path d="M176,266 L262,266 C275,290 278,320 269,343 L176,343 Z" fill="#ebebeb"/><rect x="151" y="306" width="26" height="25" rx="9" fill="#2a2a2a"/><rect x="232" y="312" width="46" height="25" rx="9" fill="#2a2a2a"/><rect x="164" y="247" width="99" height="20" fill="#2e2e2e"/><rect x="185" y="207" width="72" height="32" fill="#3a3a3a"/><rect x="198" y="154" width="31" height="55" fill="#262626"/><rect x="167" y="76" width="90" height="80" rx="4" fill="#c3c3c3"/><rect x="167" y="76" width="90" height="10" rx="4" fill="#dedede"/><rect x="172" y="86" width="24" height="52" fill="#a3a3a3"/><rect x="228" y="86" width="24" height="52" fill="#d6d6d6"/><rect x="208" y="80" width="8" height="76" fill="#3c3c3c"/><rect x="167" y="138" width="90" height="18" fill="#4a4a4a"/></g>
<g transform="translate(590,285) scale(0.14347)"><path d="M97,270 L340,182 L467,290 L467,322 L170,442 L97,292 Z" fill="#53595d"/><path d="M104,262 L342,186 L466,292 L178,410 Z" fill="url(#wells)" stroke="#6c757a" stroke-width="6"/></g>
<g transform="translate(590,501.3) scale(0.14347)"><path d="M97,270 L340,182 L467,290 L467,322 L170,442 L97,292 Z" fill="#53595d"/><path d="M104,262 L342,186 L466,292 L178,410 Z" fill="url(#wells)" stroke="#6c757a" stroke-width="6"/></g>
<g transform="translate(800,505) scale(0.11609)"><rect x="295" y="560" width="70" height="25" rx="10" fill="#3e4244"/><rect x="960" y="532" width="70" height="22" rx="10" fill="#3e4244"/><path d="M105,440 L170,515 L1100,490 L1100,522 C1100,535 1090,540 1075,542 L175,578 L105,475 Z" fill="#54595b"/><path d="M105,200 C105,190 110,186 120,186 L165,236 L165,515 L105,445 Z" fill="#d9dbdb"/><path d="M165,236 L1090,215 C1098,215 1100,220 1100,228 L1100,310 L165,330 Z" fill="#efefef"/><path d="M165,334 L1100,314 L1100,490 L165,515 Z" fill="#e5e5e5"/><path d="M760,322 L760,500" stroke="#c9c9c9" stroke-width="5"/><path d="M105,282 L165,326 L1100,306" fill="none" stroke="#9fd08f" stroke-width="12"/><path d="M108,188 L135,178 L1048,176 L1100,212 L165,238 Z" fill="#f3f3f3"/><path d="M132,193 L1030,183 L1068,210 L168,228 Z" fill="#505557"/><path d="M190,130 L555,130 L555,212 L195,222 Z" fill="#e3f0f2" opacity="0.6" stroke="#b7cbcf" stroke-width="4"/><path d="M215,175 L405,175" stroke="#9fd08e" stroke-width="6"/></g>
<polyline points="320,45.1 373,45.1 373,614.6 320,614.6" fill="none" stroke="#1c1c1c" stroke-width="2"/>
<line x1="373.00" y1="90.70" x2="433.20" y2="90.70" stroke="#1c1c1c" stroke-width="2.0"/><polygon points="441.00,90.70 432.20,95.05 432.20,86.35" fill="#1c1c1c"/>
<line x1="10.9" y1="195.1" x2="372" y2="195.1" stroke="#1c1c1c" stroke-width="2.2" stroke-dasharray="3.9 3.576"/>
<line x1="207.30" y1="96.30" x2="253.00" y2="96.30" stroke="#1c1c1c" stroke-width="2.0"/><polygon points="260.80,96.30 252.00,100.65 252.00,91.95" fill="#1c1c1c"/>
<line x1="207.30" y1="266.20" x2="253.00" y2="266.20" stroke="#1c1c1c" stroke-width="2.0"/><polygon points="260.80,266.20 252.00,270.55 252.00,261.85" fill="#1c1c1c"/>
<line x1="207.30" y1="363.90" x2="253.00" y2="363.90" stroke="#1c1c1c" stroke-width="2.0"/><polygon points="260.80,363.90 252.00,368.25 252.00,359.55" fill="#1c1c1c"/>
<line x1="207.30" y1="466.40" x2="253.00" y2="466.40" stroke="#1c1c1c" stroke-width="2.0"/><polygon points="260.80,466.40 252.00,470.75 252.00,462.05" fill="#1c1c1c"/>
<line x1="207.30" y1="572.30" x2="253.00" y2="572.30" stroke="#1c1c1c" stroke-width="2.0"/><polygon points="260.80,572.30 252.00,576.65 252.00,567.95" fill="#1c1c1c"/>
<line x1="583.10" y1="90.90" x2="677.20" y2="90.90" stroke="#1c1c1c" stroke-width="2.0"/><polygon points="685.00,90.90 676.20,95.25 676.20,86.55" fill="#1c1c1c"/>
<line x1="764.20" y1="90.90" x2="859.20" y2="90.90" stroke="#1c1c1c" stroke-width="2.0"/><polygon points="867.00,90.90 858.20,95.25 858.20,86.55" fill="#1c1c1c"/>
<line x1="1044.60" y1="89.00" x2="1139.20" y2="89.00" stroke="#1c1c1c" stroke-width="2.0"/><polygon points="1147.00,89.00 1138.20,93.40 1138.20,84.60" fill="#1c1c1c"/>
<line x1="1110.20" y1="329.90" x2="1015.40" y2="329.90" stroke="#1c1c1c" stroke-width="2.0"/><polygon points="1007.60,329.90 1016.40,325.55 1016.40,334.25" fill="#1c1c1c"/>
<line x1="944.40" y1="328.00" x2="850.50" y2="328.00" stroke="#1c1c1c" stroke-width="2.0"/><polygon points="842.70,328.00 851.50,323.65 851.50,332.35" fill="#1c1c1c"/>
<line x1="769.30" y1="329.90" x2="675.30" y2="329.90" stroke="#1c1c1c" stroke-width="2.0"/><polygon points="667.50,329.90 676.30,325.55 676.30,334.25" fill="#1c1c1c"/>
<line x1="678.30" y1="546.50" x2="773.30" y2="546.50" stroke="#1c1c1c" stroke-width="2.0"/><polygon points="781.10,546.50 772.30,550.85 772.30,542.15" fill="#1c1c1c"/>
<line x1="630.30" y1="397.60" x2="630.30" y2="491.40" stroke="#1c1c1c" stroke-width="2.0"/><polygon points="630.30,499.20 625.95,490.40 634.65,490.40" fill="#1c1c1c"/>
<line x1="718.20" y1="163.70" x2="718.20" y2="142.90" stroke="#1c1c1c" stroke-width="2.0"/><polygon points="718.20,135.10 722.55,143.90 713.85,143.90" fill="#1c1c1c"/>
<line x1="1175.10" y1="177.80" x2="1145.86" y2="268.10" stroke="#1c1c1c" stroke-width="2.0"/><polygon points="1143.30,276.00 1141.79,265.74 1150.54,268.57" fill="#1c1c1c"/>
<line x1="1212.80" y1="177.80" x2="1242.04" y2="268.10" stroke="#1c1c1c" stroke-width="2.0"/><polygon points="1244.60,276.00 1237.36,268.57 1246.11,265.74" fill="#1c1c1c"/>
<line x1="560.90" y1="167.20" x2="560.90" y2="144.90" stroke="#e02b26" stroke-width="2.0"/><polygon points="560.90,136.50 565.60,145.90 556.20,145.90" fill="#e02b26"/>
<line x1="559.40" y1="330.10" x2="582.00" y2="330.10" stroke="#e02b26" stroke-width="2.0"/><polygon points="590.00,330.10 581.00,334.60 581.00,325.60" fill="#e02b26"/>
<line x1="1320.60" y1="258.90" x2="1305.72" y2="284.48" stroke="#e02b26" stroke-width="2.0"/><polygon points="1301.70,291.40 1302.33,281.36 1310.11,285.88" fill="#e02b26"/>
<path d="M502,72 Q521,57.8 536.5,67.5" fill="none" stroke="#1c1c1c" stroke-width="2"/>
<polygon points="542.8,71.4 533.2,70.6 538.6,63.3" fill="#1c1c1c"/>
<path d="M523.80,35.10 L523.80,53.00 L519.90,53.00 L519.90,40.00 L515.50,41.20 L515.50,37.60 L523.20,35.10 Z" fill="#000"/>
<path d="M495.00,439.00 L495.00,456.60 L491.10,456.60 L491.10,443.90 L486.70,445.10 L486.70,441.50 L494.40,439.00 Z" fill="#000"/>
<path d="M725.10,515.80 L725.10,533.90 L721.20,533.90 L721.20,520.70 L716.80,521.90 L716.80,518.30 L724.50,515.80 Z" fill="#000"/>
<path d="M740.00,515.80 L740.00,533.90 L736.10,533.90 L736.10,520.70 L731.70,521.90 L731.70,518.30 L739.40,515.80 Z" fill="#000"/>
<path d="M957.90,537.80 L957.90,555.70 L954.00,555.70 L954.00,542.70 L949.60,543.90 L949.60,540.30 L957.30,537.80 Z" fill="#000"/>
<text x="39.24" y="158.00" font-size="15.9" fill="#151515" stroke="#151515" stroke-width="0.1" textLength="48.97" lengthAdjust="spacingAndGlyphs">Control</text>
<text x="39.24" y="318.80" font-size="15.9" fill="#151515" stroke="#151515" stroke-width="0.1" textLength="49.17" lengthAdjust="spacingAndGlyphs">Control</text>
<text x="14.76" y="419.60" font-size="15.7" fill="#151515" stroke="#151515" stroke-width="0.1" textLength="208.36" lengthAdjust="spacingAndGlyphs">Low PS-NMPs (0.0025 mg/mL)</text>
<text x="15.45" y="520.90" font-size="15.7" fill="#151515" stroke="#151515" stroke-width="0.1" textLength="226.48" lengthAdjust="spacingAndGlyphs">Medium PS-NMPs (0.025 mg/mL)</text>
<text x="13.76" y="623.20" font-size="15.7" fill="#151515" stroke="#151515" stroke-width="0.1" textLength="202.97" lengthAdjust="spacingAndGlyphs">High PS-NMPs (0.125 mg/mL)</text>
<text x="596.40" y="113.50" font-size="15.7" fill="#151515" stroke="#151515" stroke-width="0.1" textLength="75.13" lengthAdjust="spacingAndGlyphs">Dry at 60°C</text>
<text x="602.27" y="131.00" font-size="15.7" fill="#151515" stroke="#151515" stroke-width="0.1" textLength="63.84" lengthAdjust="spacingAndGlyphs">for 48 hrs</text>
<text x="549.89" y="186.80" font-size="18.8" fill="#e02b26" stroke="#e02b26" stroke-width="0.25" textLength="22.06" lengthAdjust="spacingAndGlyphs">SR</text>
<text x="689.16" y="184.90" font-size="15.7" fill="#151515" stroke="#151515" stroke-width="0.1" textLength="57.61" lengthAdjust="spacingAndGlyphs">Add 30%</text>
<text x="702.54" y="202.90" font-size="15.7" fill="#151515" stroke="#151515" stroke-width="0.1" textLength="30.41" lengthAdjust="spacingAndGlyphs">KOH</text>
<text x="755.47" y="113.50" font-size="15.7" fill="#151515" stroke="#151515" stroke-width="0.1" textLength="115.79" lengthAdjust="spacingAndGlyphs">Digestion at 40°C</text>
<text x="781.87" y="131.20" font-size="15.7" fill="#151515" stroke="#151515" stroke-width="0.1" textLength="63.74" lengthAdjust="spacingAndGlyphs">for 24 hrs</text>
<text x="1042.02" y="113.55" font-size="15.7" fill="#151515" stroke="#151515" stroke-width="0.1" textLength="108.45" lengthAdjust="spacingAndGlyphs">Vacuum filter on</text>
<text x="1052.31" y="131.30" font-size="15.7" fill="#151515" stroke="#151515" stroke-width="0.1" textLength="87.65" lengthAdjust="spacingAndGlyphs">0.8 µm Nylon</text>
<text x="1037.47" y="149.05" font-size="15.7" fill="#151515" stroke="#151515" stroke-width="0.1" textLength="117.32" lengthAdjust="spacingAndGlyphs">filter, collect 2 µm</text>
<text x="1036.48" y="166.80" font-size="15.7" fill="#151515" stroke="#151515" stroke-width="0.1" textLength="117.56" lengthAdjust="spacingAndGlyphs">PS-NMPs on filter</text>
<text x="1050.37" y="184.60" font-size="15.7" fill="#151515" stroke="#151515" stroke-width="0.1" textLength="90.80" lengthAdjust="spacingAndGlyphs">and 0.1 µm in</text>
<text x="1074.97" y="202.36" font-size="15.7" fill="#151515" stroke="#151515" stroke-width="0.1" textLength="42.41" lengthAdjust="spacingAndGlyphs">filtrate</text>
<text x="1302.60" y="230.80" font-size="18.7" fill="#e02b26" stroke="#e02b26" stroke-width="0.25" textLength="40.49" lengthAdjust="spacingAndGlyphs">2 µm</text>
<text x="1310.98" y="249.40" font-size="16.5" fill="#e02b26" stroke="#e02b26" stroke-width="0.25" textLength="23.18" lengthAdjust="spacingAndGlyphs">SQ</text>
<text x="1230.40" y="386.60" font-size="15.7" fill="#151515" stroke="#151515" stroke-width="0.1" textLength="80.09" lengthAdjust="spacingAndGlyphs">Image 2 µm</text>
<text x="1245.15" y="404.50" font-size="15.7" fill="#151515" stroke="#151515" stroke-width="0.1" textLength="50.37" lengthAdjust="spacingAndGlyphs">on filter</text>
<text x="1033.86" y="361.60" font-size="15.7" fill="#151515" stroke="#151515" stroke-width="0.1" textLength="55.38" lengthAdjust="spacingAndGlyphs">Transfer</text>
<text x="1024.67" y="379.40" font-size="15.7" fill="#151515" stroke="#151515" stroke-width="0.1" textLength="74.54" lengthAdjust="spacingAndGlyphs">filtrate with</text>
<text x="1025.22" y="397.20" font-size="15.7" fill="#151515" stroke="#151515" stroke-width="0.1" textLength="72.69" lengthAdjust="spacingAndGlyphs">0.1 µm PS-</text>
<text x="1031.94" y="415.00" font-size="15.7" fill="#151515" stroke="#151515" stroke-width="0.1" textLength="58.60" lengthAdjust="spacingAndGlyphs">NMPs to</text>
<text x="1025.13" y="432.80" font-size="15.7" fill="#151515" stroke="#151515" stroke-width="0.1" textLength="72.31" lengthAdjust="spacingAndGlyphs">centrifugal</text>
<text x="1032.07" y="450.60" font-size="15.7" fill="#151515" stroke="#151515" stroke-width="0.1" textLength="57.94" lengthAdjust="spacingAndGlyphs">filter unit</text>
<text x="845.03" y="361.80" font-size="15.7" fill="#151515" stroke="#151515" stroke-width="0.1" textLength="96.10" lengthAdjust="spacingAndGlyphs">Spin at 2000 g</text>
<text x="865.77" y="379.20" font-size="15.7" fill="#151515" stroke="#151515" stroke-width="0.1" textLength="55.06" lengthAdjust="spacingAndGlyphs">for 3 hrs</text>
<text x="653.45" y="360.00" font-size="15.7" fill="#151515" stroke="#151515" stroke-width="0.1" textLength="133.00" lengthAdjust="spacingAndGlyphs">Collect sample, Add</text>
<text x="657.99" y="377.40" font-size="15.7" fill="#151515" stroke="#151515" stroke-width="0.1" textLength="124.42" lengthAdjust="spacingAndGlyphs">50 µL of sample to</text>
<text x="650.26" y="394.80" font-size="15.7" fill="#151515" stroke="#151515" stroke-width="0.1" textLength="139.37" lengthAdjust="spacingAndGlyphs">each well of 384 well</text>
<text x="702.78" y="412.00" font-size="15.7" fill="#151515" stroke="#151515" stroke-width="0.1" textLength="33.90" lengthAdjust="spacingAndGlyphs">plate</text>
<text x="467.81" y="337.00" font-size="18.6" fill="#e02b26" stroke="#e02b26" stroke-width="0.25" textLength="82.40" lengthAdjust="spacingAndGlyphs">0.1 µm SQ</text>
<text x="534.09" y="450.00" font-size="15.7" fill="#151515" stroke="#151515" stroke-width="0.1" textLength="75.85" lengthAdjust="spacingAndGlyphs">Dry at 37°C</text>
<text x="530.87" y="467.50" font-size="15.7" fill="#151515" stroke="#151515" stroke-width="0.1" textLength="82.46" lengthAdjust="spacingAndGlyphs">for ~120 hrs</text>
<text x="665.29" y="576.20" font-size="15.7" fill="#151515" stroke="#151515" stroke-width="0.1" textLength="131.54" lengthAdjust="spacingAndGlyphs">Re-hydrate samples</text>
<text x="664.24" y="593.70" font-size="15.7" fill="#151515" stroke="#151515" stroke-width="0.1" textLength="134.81" lengthAdjust="spacingAndGlyphs">with 100 µL DI water</text>
<text x="658.39" y="611.30" font-size="15.7" fill="#151515" stroke="#151515" stroke-width="0.1" textLength="146.27" lengthAdjust="spacingAndGlyphs">5 min prior to imaging</text>
<text x="998.94" y="546.50" font-size="15.7" fill="#151515" stroke="#151515" stroke-width="0.1" textLength="118.88" lengthAdjust="spacingAndGlyphs">Image 0.1 µm PS-</text>
<text x="982.57" y="564.00" font-size="15.7" fill="#151515" stroke="#151515" stroke-width="0.1" textLength="151.32" lengthAdjust="spacingAndGlyphs">NMPs on opera phenix</text>
<text x="25.68" y="49.00" font-size="26.5" font-weight="bold" fill="#000" stroke="#000" stroke-width="0" textLength="18.00" lengthAdjust="spacingAndGlyphs">A</text>
<text x="399.41" y="48.70" font-size="26.3" font-weight="bold" fill="#000" stroke="#000" stroke-width="0" textLength="15.98" lengthAdjust="spacingAndGlyphs">B</text>
<text x="26.18" y="235.00" font-size="26.3" font-weight="bold" fill="#000" stroke="#000" stroke-width="0" textLength="16.65" lengthAdjust="spacingAndGlyphs">C</text>
<text x="626.74" y="79.10" font-size="26.0" font-weight="bold" fill="#000" stroke="#000" stroke-width="0" textLength="15.33" lengthAdjust="spacingAndGlyphs">2</text>
<text x="664.01" y="194.00" font-size="26.0" font-weight="bold" fill="#000" stroke="#000" stroke-width="0" textLength="14.53" lengthAdjust="spacingAndGlyphs">3</text>
<text x="806.54" y="79.20" font-size="26.0" font-weight="bold" fill="#000" stroke="#000" stroke-width="0" textLength="13.51" lengthAdjust="spacingAndGlyphs">4</text>
<text x="1089.25" y="79.10" font-size="26.0" font-weight="bold" fill="#000" stroke="#000" stroke-width="0" textLength="13.86" lengthAdjust="spacingAndGlyphs">5</text>
<text x="1204.82" y="395.80" font-size="26.0" font-weight="bold" fill="#000" stroke="#000" stroke-width="0" textLength="14.52" lengthAdjust="spacingAndGlyphs">6</text>
<text x="1054.12" y="317.90" font-size="26.0" font-weight="bold" fill="#000" stroke="#000" stroke-width="0" textLength="15.50" lengthAdjust="spacingAndGlyphs">7</text>
<text x="885.98" y="317.90" font-size="26.0" font-weight="bold" fill="#000" stroke="#000" stroke-width="0" textLength="14.00" lengthAdjust="spacingAndGlyphs">8</text>
<text x="711.07" y="318.00" font-size="26.0" font-weight="bold" fill="#000" stroke="#000" stroke-width="0" textLength="14.79" lengthAdjust="spacingAndGlyphs">9</text>
<text x="499.65" y="456.80" font-size="26.0" font-weight="bold" fill="#000" stroke="#000" stroke-width="0" textLength="14.64" lengthAdjust="spacingAndGlyphs">0</text>
<text x="963.00" y="555.70" font-size="26.0" font-weight="bold" fill="#000" stroke="#000" stroke-width="0" textLength="14.29" lengthAdjust="spacingAndGlyphs">2</text>
</svg>
</body></html>
